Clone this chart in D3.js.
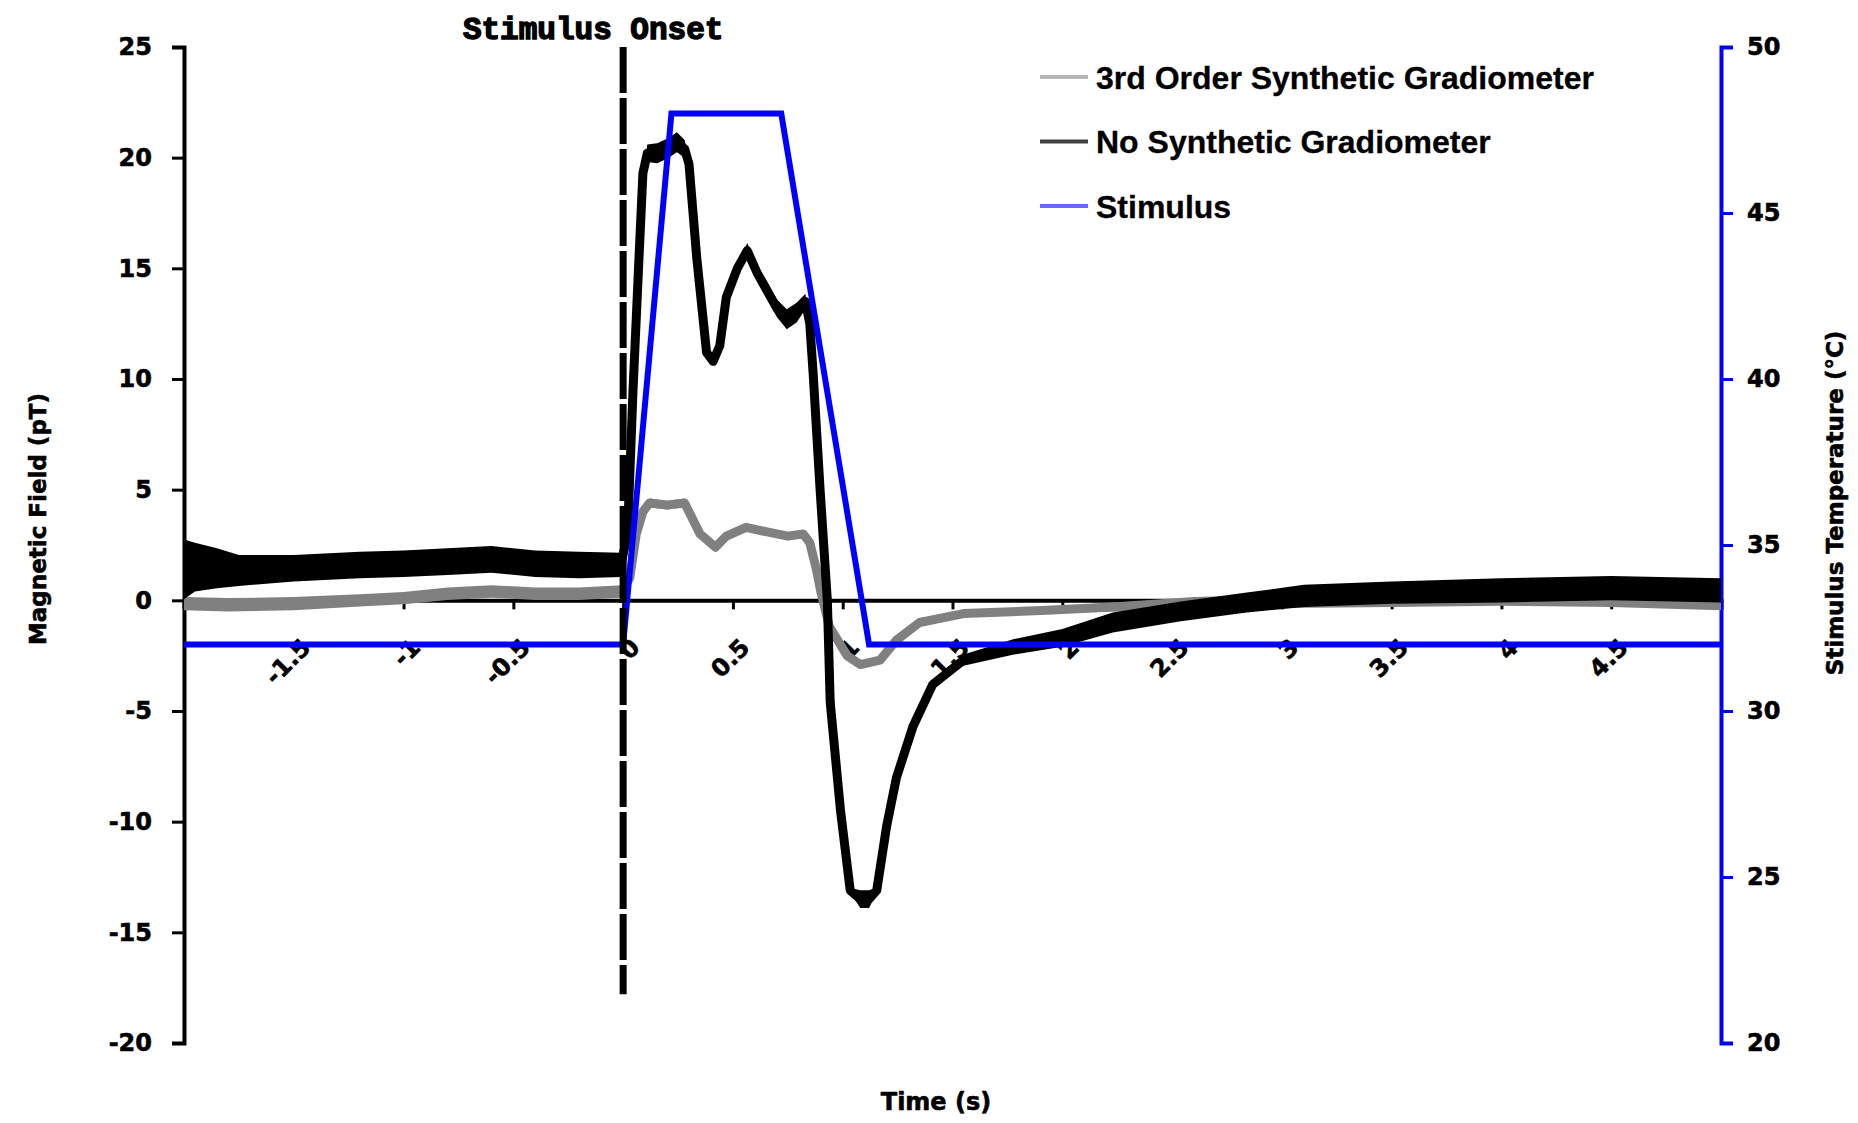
<!DOCTYPE html>
<html>
<head>
<meta charset="utf-8">
<script src="https://cdn.jsdelivr.net/npm/d3@7/dist/d3.min.js"></script>
<style>
  body { margin: 0; background: #fff; }
  text { font-family: "DejaVu Sans", sans-serif; font-weight: bold; fill: #000; stroke: #000; stroke-width: 0.6px; }
  .legend text { font-family: "Liberation Sans", Arial, sans-serif; stroke-width: 0.3px; }
  .onset text { font-family: "Liberation Mono", "DejaVu Sans Mono", monospace; stroke-width: 1.4px; }
</style>
</head>
<body>
<div id="chart"></div>
<script>
var width = 1858, height = 1123;
var margin = {top: 47, right: 137, bottom: 80, left: 184};
var w = width - margin.left - margin.right,
    h = height - margin.top - margin.bottom;

// axis ticks
var timeTicks = [-2, -1.5, -1, -0.5, 0, 0.5, 1, 1.5, 2, 2.5, 3, 3.5, 4, 4.5, 5];
var timeLabels = [-1.5, -1, -0.5, 0, 0.5, 1, 1.5, 2, 2.5, 3, 3.5, 4, 4.5];
var fieldTicks = [-20, -15, -10, -5, 0, 5, 10, 15, 20, 25];
var tempTicks = [20, 25, 30, 35, 40, 45, 50];

// stimulus (deg C, right axis)
var stimTime = [-2, 0, 0.22, 0.72, 1.12, 5];
var stimTemp = [32, 32, 48, 48, 32, 32];

// No Synthetic Gradiometer (pT): centre and half-width of the noise band
var nsgTime = [-2, -1.95, -1.85, -1.75, -1.5, -1.2, -1.0, -0.8, -0.6, -0.4, -0.2, -0.01,
  0.02, 0.045, 0.07, 0.09, 0.11, 0.155, 0.2, 0.245, 0.28, 0.3, 0.335, 0.38, 0.41, 0.44,
  0.47, 0.52, 0.565, 0.61, 0.655, 0.7, 0.745, 0.79, 0.83, 0.85, 0.865, 0.897, 0.93,
  0.943, 0.99, 1.034, 1.08, 1.12, 1.155, 1.2, 1.245, 1.32, 1.41, 1.55, 1.78, 2.0, 2.23,
  2.54, 2.84, 3.1, 3.5, 4.0, 4.5, 5.0];
var nsgMid = [1.4, 1.5, 1.45, 1.35, 1.45, 1.6, 1.65, 1.75, 1.85, 1.65, 1.6, 1.6,
  3, 9.5, 15, 19.3, 20.2, 20.2, 20.4, 20.7, 20.4, 19.7, 15.5, 11.2, 10.8, 11.5,
  13.7, 15.0, 15.8, 14.8, 14.0, 13.2, 12.7, 13.0, 13.5, 12.5, 10.3, 5, 0,
  -4.6, -9.5, -13.1, -13.5, -13.5, -13.1, -10.2, -8.0, -5.7, -3.8, -2.7, -2.1, -1.7, -1.0,
  -0.5, -0.1, 0.2, 0.35, 0.45, 0.55, 0.45];
var nsgSpread = [1.35, 1.1, 0.9, 0.7, 0.6, 0.6, 0.6, 0.6, 0.6, 0.6, 0.6, 0.55,
  0, 0, 0, 0.1, 0.4, 0.45, 0.45, 0.45, 0.4, 0.2, 0, 0, 0.15, 0,
  0, 0.1, 0.35, 0.35, 0.4, 0.4, 0.45, 0.45, 0.35, 0.1, 0, 0, 0,
  0, 0, 0.1, 0.4, 0.4, 0.1, 0, 0, 0, 0.15, 0.25, 0.35, 0.4, 0.45,
  0.45, 0.45, 0.5, 0.5, 0.55, 0.55, 0.55];

// 3rd Order Synthetic Gradiometer (pT)
var synTime = [-2, -1.8, -1.5, -1.2, -1.0, -0.8, -0.6, -0.4, -0.2, -0.01,
  0.03, 0.06, 0.09, 0.12, 0.2, 0.28, 0.31, 0.35, 0.42, 0.47, 0.56, 0.65, 0.75, 0.82,
  0.85, 0.88, 0.9, 0.94, 1.02, 1.08, 1.17, 1.245, 1.35, 1.55, 1.93, 2.23, 2.6, 3.0,
  3.5, 4.0, 4.5, 5.0];
var synMid = [-0.15, -0.2, -0.15, 0.0, 0.1, 0.3, 0.4, 0.3, 0.3, 0.4,
  1.0, 3.0, 4.0, 4.4, 4.3, 4.4, 3.8, 3.0, 2.4, 2.9, 3.3, 3.1, 2.9, 3.0,
  2.6, 1.4, 0.4, -1.2, -2.5, -2.9, -2.7, -1.8, -1.0, -0.6, -0.45, -0.3, -0.15, -0.05,
  0.0, 0.05, 0.0, -0.15];
var synSpread = [0.3, 0.3, 0.3, 0.28, 0.28, 0.28, 0.28, 0.28, 0.28, 0.28,
  0, 0, 0.1, 0.2, 0.2, 0.2, 0.05, 0, 0.1, 0.05, 0.12, 0.12, 0.12, 0.12,
  0, 0, 0, 0, 0, 0.1, 0.1, 0, 0, 0.1, 0.15, 0.2, 0.3, 0.3,
  0.3, 0.3, 0.3, 0.3];

var seriesNames = ["3rd Order Synthetic Gradiometer", "No Synthetic Gradiometer", "Stimulus"];
var onsetRange = [25, -17.8];

var svg = d3.select("#chart").append("svg")
  .attr("width", width)
  .attr("height", height);

var g = svg.append("g")
  .attr("transform", "translate(" + margin.left + "," + margin.top + ")");

var x = d3.scaleLinear().domain([-2, 5]).range([0, w]);
var y = d3.scaleLinear().domain([-20, 25]).range([h, 0]);
var y2 = d3.scaleLinear().domain([20, 50]).range([h, 0]);

var plain = function(d) { return String(d); };

// x axis crosses at 0 pT, labels sit lower, rotated
var xAxis = g.append("g")
  .attr("transform", "translate(0," + y(0) + ")")
  .call(d3.axisBottom(x).tickValues(timeTicks).tickSize(9).tickFormat(""));
xAxis.select(".domain").attr("stroke-width", 4);
xAxis.selectAll(".tick line").attr("stroke-width", 3);

g.append("g").attr("class", "xlabels")
  .selectAll("text")
  .data(timeLabels)
  .enter().append("text")
  .attr("transform", function(d) { return "translate(" + (x(d) + 6) + "," + (y2(32) - 8) + ") rotate(-45)"; })
  .attr("text-anchor", "end")
  .attr("dy", "0.72em")
  .style("font-size", "24px")
  .text(plain);

var yAxis = g.append("g")
  .call(d3.axisLeft(y).tickValues(fieldTicks).tickSize(12).tickPadding(20).tickFormat(plain));
yAxis.select(".domain").attr("stroke-width", 4);
yAxis.selectAll(".tick line").attr("stroke-width", 3);
yAxis.selectAll("text").style("font-size", "24px").style("font-family", "DejaVu Sans").style("font-weight", "bold");

var y2Axis = g.append("g")
  .attr("transform", "translate(" + w + ",0)")
  .call(d3.axisRight(y2).tickValues(tempTicks).tickSize(12).tickPadding(14).tickFormat(plain));
y2Axis.select(".domain").attr("stroke", "#0000ff").attr("stroke-width", 4);
y2Axis.selectAll(".tick line").attr("stroke", "#0000ff").attr("stroke-width", 3);
y2Axis.selectAll("text").style("font-size", "24px").style("font-family", "DejaVu Sans").style("font-weight", "bold");

function noisySeries(times, mids, spreads, colour) {
  var pts = times.map(function(t, i) { return {t: t, v: mids[i], s: spreads[i]}; });
  g.append("path")
    .datum(pts)
    .attr("fill", colour)
    .attr("d", d3.area()
      .x(function(d) { return x(d.t); })
      .y0(function(d) { return y(d.v - d.s); })
      .y1(function(d) { return y(d.v + d.s); }));
  g.append("path")
    .datum(pts)
    .attr("fill", "none")
    .attr("stroke", colour)
    .attr("stroke-width", 9)
    .attr("stroke-linejoin", "round")
    .attr("d", d3.line()
      .x(function(d) { return x(d.t); })
      .y(function(d) { return y(d.v); }));
}

noisySeries(synTime, synMid, synSpread, "#808080");
noisySeries(nsgTime, nsgMid, nsgSpread, "#000000");

g.append("path")
  .datum(stimTime.map(function(t, i) { return [t, stimTemp[i]]; }))
  .attr("fill", "none")
  .attr("stroke", "#0000ff")
  .attr("stroke-width", 6)
  .attr("d", d3.line()
    .x(function(d) { return x(d[0]); })
    .y(function(d) { return y2(d[1]); }));

// stimulus onset marker
var onset = g.append("g").attr("class", "onset");
onset.append("line")
  .attr("x1", x(0)).attr("x2", x(0))
  .attr("y1", y(onsetRange[0])).attr("y2", y(onsetRange[1]))
  .attr("stroke", "#000")
  .attr("stroke-width", 7)
  .attr("stroke-dasharray", "46,5");
onset.append("text")
  .attr("x", x(0) - 30)
  .attr("y", -8)
  .attr("text-anchor", "middle")
  .style("font-size", "31px")
  .text("Stimulus Onset");

// legend
var legendColours = ["#b8b8b8", "#404040", "#6a6aff"];
var legend = g.append("g").attr("class", "legend")
  .attr("transform", "translate(" + (1040 - margin.left) + "," + (77 - margin.top) + ")");
var item = legend.selectAll("g")
  .data(seriesNames)
  .enter().append("g")
  .attr("transform", function(d, i) { return "translate(0," + (i * 64.5) + ")"; });
item.append("line")
  .attr("x1", 0).attr("x2", 48)
  .attr("stroke", function(d, i) { return legendColours[i]; })
  .attr("stroke-width", 4);
item.append("text")
  .attr("x", 56)
  .attr("dy", "0.36em")
  .style("font-size", "32px")
  .text(function(d) { return d; });

// axis titles
svg.append("text")
  .attr("transform", "translate(46,519) rotate(-90)")
  .attr("text-anchor", "middle")
  .style("font-size", "23px")
  .text("Magnetic Field (pT)");

svg.append("text")
  .attr("transform", "translate(1843,503) rotate(-90)")
  .attr("text-anchor", "middle")
  .style("font-size", "23px")
  .text("Stimulus Temperature (°C)");

svg.append("text")
  .attr("x", 936)
  .attr("y", 1110)
  .attr("text-anchor", "middle")
  .style("font-size", "24px")
  .text("Time (s)");
</script>
</body>
</html>
